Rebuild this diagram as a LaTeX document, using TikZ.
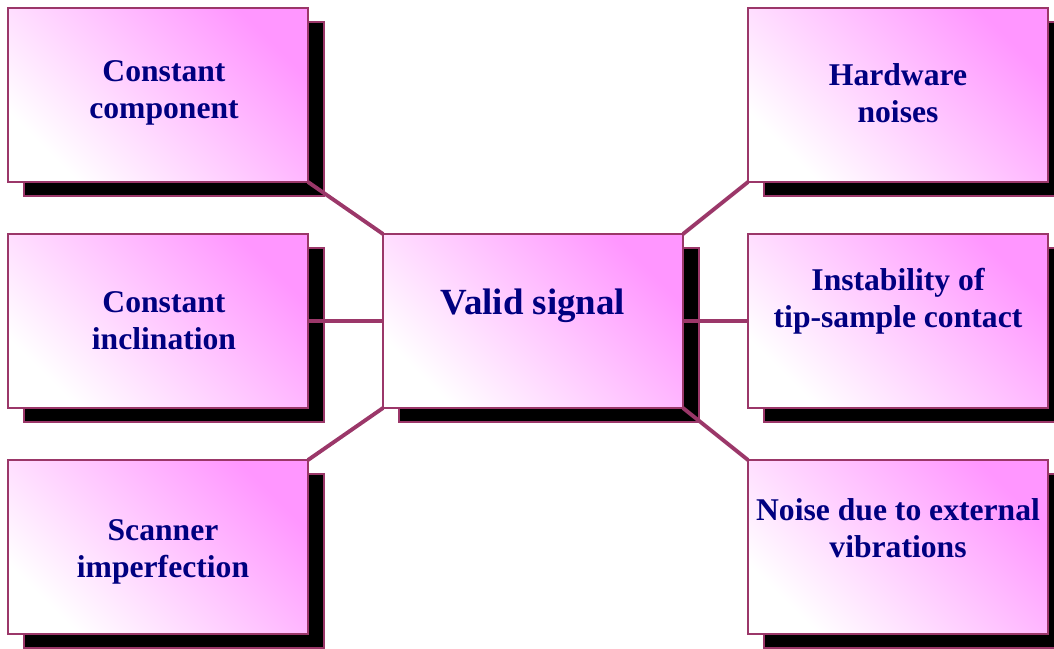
\documentclass[tikz,border=0pt]{standalone}
\usepackage{fontspec}
\setmainfont{Liberation Serif}
\usetikzlibrary{shadows}

\definecolor{boxpink}{RGB}{255,150,255}
\definecolor{boxline}{RGB}{155,55,105}
\definecolor{txtnavy}{RGB}{0,0,128}

\tikzstyle{main}  = [inner sep=0pt, outer sep=0pt, minimum width=6cm, minimum height=3.48cm]
\tikzstyle{cpink} = [draw=boxline, line width=1pt, left color=white, right color=boxpink, shading angle=135,
                     drop shadow={fill=black, draw=boxline, opacity=1, shadow xshift=0.32cm, shadow yshift=-0.28cm}]
\tikzstyle{txt}   = [text=txtnavy, align=center, font=\bfseries\fontsize{18}{21}\selectfont]
\tikzstyle{big}   = [txt, font=\bfseries\fontsize{21}{25}\selectfont]
\tikzstyle{link}  = [draw=boxline, line width=2.2pt]

\begin{document}
\begin{tikzpicture}
  \useasboundingbox (0,0) rectangle (21.08,12.96);
  \draw
    node[main, cpink, label={[txt, xshift=0.12cm, yshift=0.04cm]center:Constant\\component}]  (comp) at (3.16,11.06) {}
    node[main, cpink, label={[txt, xshift=0.12cm]center:Constant\\inclination}]               (incl) at (3.16,6.54)  {}
    node[main, cpink, label={[txt, xshift=0.1cm, yshift=-0.1cm]center:Scanner\\imperfection}] (scan) at (3.16,2.02)  {}
    node[main, cpink, label={[big, yshift=0.3cm]center:Valid signal}]                         (valid) at (10.66,6.54) {}
    node[main, cpink, label={[txt, yshift=0.03cm]center:Hardware\\noises}]                    (hard) at (17.96,11.06) {}
    node[main, cpink, label={[txt, yshift=0.4cm]center:Instability of\\tip-sample contact}]   (inst) at (17.96,6.54) {}
    node[main, cpink, label={[txt, yshift=0.38cm]center:Noise due to external\\vibrations}]   (vibr) at (17.96,2.02) {};

  \draw[link] (comp.south east) -- (valid.north west);
  \draw[link] (incl.east) -- (valid.west);
  \draw[link] (scan.north east) -- (valid.south west);
  \draw[link] (hard.south west) -- (valid.north east);
  \draw[link] (inst.west) -- (valid.east);
  \draw[link] (vibr.north west) -- (valid.south east);
\end{tikzpicture}
\end{document}
